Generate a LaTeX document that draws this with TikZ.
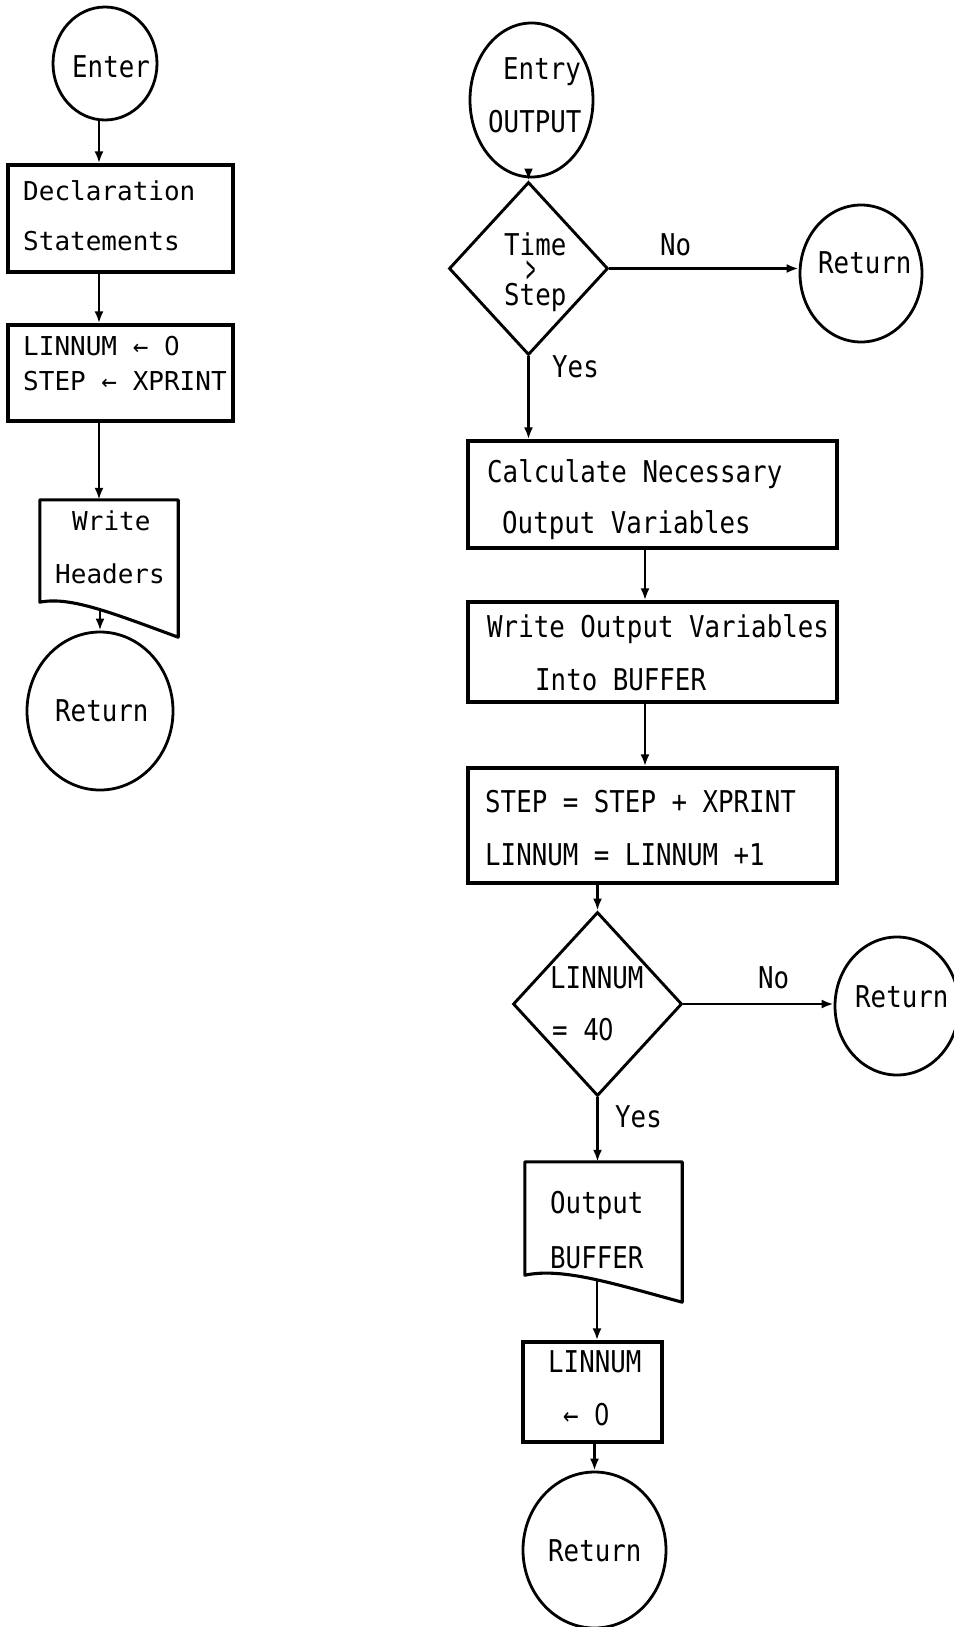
\documentclass[tikz,border=0pt]{standalone}
\usepackage{graphicx}
\usepackage{fontspec}
\usetikzlibrary{shapes.geometric,arrows.meta,calc}
\newfontfamily\typeA{DejaVu Sans Mono}
\newfontfamily\typeB[FakeStretch=0.86]{DejaVu Sans Mono}
% plain (undotted) zero, narrowed to the monospaced advance
\newfontfamily\zeroA[FakeStretch=0.95]{DejaVu Sans}
\newfontfamily\zeroB[FakeStretch=0.81]{DejaVu Sans}
\newcommand{\zA}{{\zeroA 0}}
\newcommand{\zB}{{\zeroB 0}}

\begin{document}
\begin{tikzpicture}[x=1pt,y=-1pt,
  box/.style={draw, rectangle, line width=3.3pt, inner sep=0pt},
  term/.style={draw, ellipse, line width=2.8pt, inner sep=0pt},
  test/.style={draw, diamond, line width=2.9pt, inner sep=0pt},
  docarea/.style={rectangle, inner sep=0pt},
  docline/.style={line width=3.1pt, line join=round},
  txtA/.style={anchor=base west, inner sep=0pt, font=\fontsize{26}{30}\typeA},
  txtB/.style={anchor=base west, inner sep=0pt, font=\fontsize{30}{34}\typeB},
  flow/.style={line width=2.7pt, -{Latex[length=12pt,width=9pt]}},
]
\useasboundingbox (0,0) rectangle (953,1627);

% ---------------- left routine: headers ----------------
\node[term, minimum width=104pt, minimum height=113pt] (enter) at (105,63.5) {};
\node[txtB] (tEnter) at (72,78) {Enter};

\node[box, minimum width=225pt, minimum height=107pt] (decl) at (120.5,218.5) {};
\node[txtA] (tDecl1) at (23,200) {Declaration};
\node[txtA] (tDecl2) at (23,250) {Statements};

\node[box, minimum width=225pt, minimum height=96pt] (lin1) at (120.5,373) {};
\node[txtA] (tLin1a) at (23,355) {LINNUM ← \zA};
\node[txtA] (tLin1b) at (23,390) {STEP ← XPRINT};

\node[docarea, minimum width=138pt, minimum height=102pt] (wh) at (109,551) {};
\draw[docline] (wh.south west) -- (wh.north west) -- (wh.north east)
  -- ($(wh.south east)+(0,35)$)
  .. controls ($(wh.south east)+(-68,10)$) and ($(wh.south west)+(30,-6)$) .. (wh.south west)
  -- cycle;
\node[txtA] (tWh1) at (72,530) {Write};
\node[txtA] (tWh2) at (55,583) {Headers};
\coordinate (whb) at (100,609);

\node[term, minimum width=146pt, minimum height=158pt] (ret1) at (100,711) {};
\node[txtB] (tRet1) at (55,721) {Return};

\coordinate (lx) at (99,0);
\draw[flow] (enter.south -| lx) -- (decl.north -| lx);
\draw[flow] (decl.south -| lx) -- (lin1.north -| lx);
\draw[flow] (lin1.south -| lx) -- (wh.north -| lx);
\draw[flow] (whb) -- (ret1.north);

% ---------------- right routine: OUTPUT ----------------
\node[term, minimum width=123pt, minimum height=154pt] (entry) at (531.5,100) {};
\node[txtB] (tEntry1) at (503,80) {Entry};
\node[txtB] (tEntry2) at (488,132) {OUTPUT};

\node[test, minimum width=159pt, minimum height=173pt] (d1) at (528.5,268.5) {};
\node[txtB] (tD1a) at (504,255) {Time};
\node[txtB, text height=20pt, text depth=0pt] (tD1b) at (526,282) {\scalebox{0.6}[1.3]{>}};
\node[txtB] (tD1c) at (504,305) {Step};

\node[term, minimum width=122pt, minimum height=137pt] (ret2) at (861,273.5) {};
\node[txtB] (tRet2) at (818,273) {Return};
\node[txtB] (tNo1) at (660,255) {No};
\node[txtB] (tYes1) at (552,377) {Yes};

\node[box, minimum width=369pt, minimum height=107pt] (calc) at (652.5,494.5) {};
\node[txtB] (tCalc1) at (487,482) {Calculate Necessary};
\node[txtB] (tCalc2) at (502,533) {Output Variables};

\node[box, minimum width=369pt, minimum height=100pt] (wov) at (652.5,652) {};
\node[txtB] (tWov1) at (487,637) {Write Output Variables};
\node[txtB] (tWov2) at (535,690) {Into BUFFER};

\node[box, minimum width=369pt, minimum height=115pt] (stp) at (652.5,825.5) {};
\node[txtB] (tStp1) at (485,812) {STEP = STEP + XPRINT};
\node[txtB] (tStp2) at (485,865) {LINNUM = LINNUM +1};

\node[test, minimum width=169pt, minimum height=184pt] (d2) at (597.5,1004) {};
\node[txtB] (tD2a) at (550,988) {LINNUM};
\node[txtB] (tD2b) at (552,1040) {= 4\zB};

\node[term, minimum width=124pt, minimum height=138pt] (ret3) at (897,1006) {};
\node[txtB] (tRet3) at (855,1007) {Return};
\node[txtB] (tNo2) at (758,988) {No};
\node[txtB] (tYes2) at (615,1127) {Yes};

\node[docarea, minimum width=157pt, minimum height=113pt] (ob) at (603.5,1218.5) {};
\draw[docline] (ob.south west) -- (ob.north west) -- (ob.north east)
  -- ($(ob.south east)+(0,27)$)
  .. controls ($(ob.south east)+(-70,8)$) and ($(ob.south west)+(37,-8)$) .. (ob.south west)
  -- cycle;
\node[txtB] (tOb1) at (550,1213) {Output};
\node[txtB] (tOb2) at (550,1268) {BUFFER};
\coordinate (obb) at (597,1280);

\node[box, minimum width=139pt, minimum height=100pt] (lin2) at (592.5,1392) {};
\node[txtB] (tLin2a) at (548,1372) {LINNUM};
\node[txtB] (tLin2b) at (563,1425) {← \zB};

\node[term, minimum width=143pt, minimum height=156pt] (ret4) at (594.5,1550) {};
\node[txtB] (tRet4) at (548,1561) {Return};

\coordinate (rb) at (645,0);
\draw[flow] (entry.south -| d1.north) -- (d1.north);
\draw[flow] (d1.east) -- (d1.east -| ret2.west);
\draw[flow] (d1.south) -- (calc.north -| d1.south);
\draw[flow] (calc.south -| rb) -- (wov.north -| rb);
\draw[flow] (wov.south -| rb) -- (stp.north -| rb);
\draw[flow] (stp.south -| d2.north) -- (d2.north);
\draw[flow] (d2.east) -- (d2.east -| ret3.west);
\draw[flow] (d2.south) -- (ob.north -| d2.south);
\draw[flow] (obb) -- (lin2.north -| obb);
\draw[flow] (lin2.south -| ret4.north) -- (ret4.north);
\end{tikzpicture}
\end{document}
